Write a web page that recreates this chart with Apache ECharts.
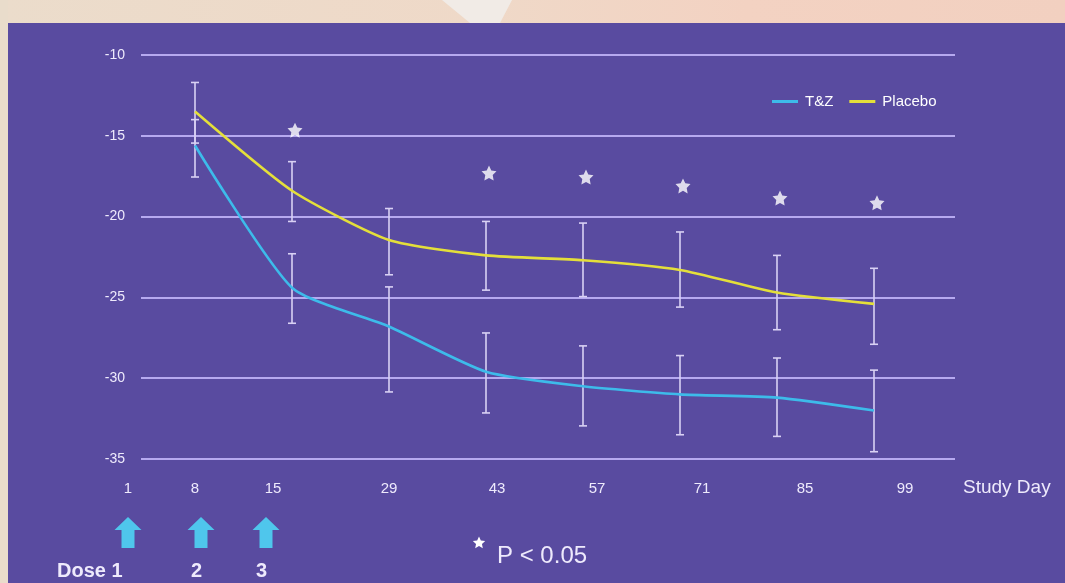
<!DOCTYPE html>
<html>
<head>
<meta charset="utf-8">
<script src="https://cdn.jsdelivr.net/npm/echarts@6/dist/echarts.min.js"></script>
<style>
html,body{margin:0;padding:0;background:#594ba0;}
#chart{width:1065px;height:583px;}
</style>
</head>
<body>
<div id="chart"></div>
<script>
// ---- data ----
const days = ['1', '8', '15', '29', '43', '57', '71', '85', '99'];
const yTicks = [-35, -30, -25, -20, -15, -10];
const tzMean = [null, -15.6, -24.4, -26.8, -29.6, -30.5, -31.0, -31.2, -32.0];
const tzHigh = [null, -14.0, -22.3, -24.35, -27.2, -28.0, -28.6, -28.75, -29.5];
const tzLow  = [null, -17.55, -26.6, -30.85, -32.15, -32.95, -33.5, -33.6, -34.55];
const pbMean = [null, -13.5, -18.4, -21.45, -22.4, -22.7, -23.3, -24.7, -25.4];
const pbHigh = [null, -11.7, -16.6, -19.5, -20.3, -20.4, -20.95, -22.4, -23.2];
const pbLow  = [null, -15.45, -20.3, -23.6, -24.55, -24.95, -25.6, -27.0, -27.9];
const starY  = [null, null, -14.65, null, -17.3, -17.55, -18.1, -18.85, -19.15];
const seriesNames = ['T&Z', 'Placebo'];
const doseLabels = ['Dose 1', '2', '3'];
const noteText = 'P < 0.05';
const xName = 'Study Day';

// label nudges (px) so the day labels sit where the slide put them
const labelNudge = [30, 0, -19, 0, 11, 14, 22, 28, 31];

const BG = '#594ba0';
const GRID = '#b6a9f0';
const BAR = '#d9d1f4';
const BLUE = '#3dbbea';
const YELLOW = '#e4df3a';
const ARROW = '#4fc6ec';
const TXT = '#eeeafc';
const FONT = '"Liberation Sans", Arial, sans-serif';

function errData(hi, lo) {
  const out = [];
  for (let i = 0; i < days.length; i++) {
    if (hi[i] != null) out.push([i, hi[i], lo[i]]);
  }
  return out;
}
function renderErr(params, api) {
  const x = api.value(0);
  const a = api.coord([x, api.value(1)]);
  const b = api.coord([x, api.value(2)]);
  const w = 4;
  const st = { stroke: BAR, lineWidth: 1.6 };
  return {
    type: 'group',
    children: [
      { type: 'line', shape: { x1: a[0], y1: a[1], x2: b[0], y2: b[1] }, style: st },
      { type: 'line', shape: { x1: a[0] - w, y1: a[1], x2: a[0] + w, y2: a[1] }, style: st },
      { type: 'line', shape: { x1: b[0] - w, y1: b[1], x2: b[0] + w, y2: b[1] }, style: st }
    ]
  };
}
const starPath = 'path://M0,-10 L2.9,-4 L9.5,-3.1 L4.7,1.5 L5.9,8.1 L0,5 L-5.9,8.1 L-4.7,1.5 L-9.5,-3.1 L-2.9,-4 Z';

function starPoly(cx, cy, r) {
  const pts = [];
  for (let k = 0; k < 10; k++) {
    const ang = -Math.PI / 2 + k * Math.PI / 5;
    const rr = k % 2 === 0 ? r : r * 0.48;
    pts.push([cx + rr * Math.cos(ang), cy + rr * Math.sin(ang)]);
  }
  return { type: 'polygon', shape: { points: pts }, style: { fill: '#ffffff' }, z: 10 };
}

function arrow(cx) {
  return {
    type: 'polygon',
    shape: { points: [[cx, 517], [cx + 13.5, 530], [cx + 6.5, 530], [cx + 6.5, 548], [cx - 6.5, 548], [cx - 6.5, 530], [cx - 13.5, 530]] },
    style: { fill: ARROW },
    z: 10
  };
}

const labelRich = {};
labelNudge.forEach(function (s, i) {
  labelRich['n' + i] = {
    color: TXT, fontSize: 15, fontFamily: FONT,
    padding: s >= 0 ? [0, 0, 0, 2 * s] : [0, -2 * s, 0, 0]
  };
});

const chart = echarts.init(document.getElementById('chart'), null, { renderer: 'canvas' });
chart.setOption({
  backgroundColor: BG,
  animation: false,
  textStyle: { fontFamily: FONT },
  grid: [
    { left: 141, right: 110, top: 55, bottom: 124 },
    { left: 98, right: 191, top: 55, bottom: 124 }
  ],
  xAxis: [
    { gridIndex: 0, type: 'value', min: 0, max: 1, show: false },
    {
      gridIndex: 1, type: 'category', data: days, boundaryGap: false,
      axisLine: { show: false }, axisTick: { show: false },
      axisLabel: {
        color: TXT, fontSize: 15, margin: 22, fontFamily: FONT,
        formatter: function (v, i) { return '{n' + i + '|' + v + '}'; },
        rich: labelRich
      },
      name: xName, nameLocation: 'end', nameGap: 89,
      nameTextStyle: { color: TXT, fontSize: 19, fontFamily: FONT, verticalAlign: 'top', lineHeight: 58 }
    }
  ],
  yAxis: [
    {
      gridIndex: 0, type: 'value', min: yTicks[0], max: yTicks[yTicks.length - 1], interval: 5,
      axisLine: { show: false }, axisTick: { show: false },
      axisLabel: { color: TXT, fontSize: 14, margin: 16, fontFamily: FONT },
      splitLine: { lineStyle: { color: GRID, width: 2 } }
    },
    {
      gridIndex: 1, type: 'value', min: yTicks[0], max: yTicks[yTicks.length - 1], interval: 5,
      show: false, splitLine: { show: false }
    }
  ],
  legend: {
    left: 767, top: 89, itemWidth: 26, itemHeight: 3, itemGap: 16,
    icon: 'rect',
    data: seriesNames,
    textStyle: { color: '#ffffff', fontSize: 15, fontFamily: FONT, padding: [0, 0, 0, 2] }
  },
  series: [
    {
      name: 'T&Z err', type: 'custom', xAxisIndex: 1, yAxisIndex: 1,
      renderItem: renderErr, data: errData(tzHigh, tzLow), z: 2, silent: true
    },
    {
      name: 'Placebo err', type: 'custom', xAxisIndex: 1, yAxisIndex: 1,
      renderItem: renderErr, data: errData(pbHigh, pbLow), z: 2, silent: true
    },
    {
      name: seriesNames[0], type: 'line', xAxisIndex: 1, yAxisIndex: 1, data: tzMean,
      smooth: 0.2, showSymbol: false, color: BLUE,
      lineStyle: { color: BLUE, width: 2.6 }, z: 3
    },
    {
      name: seriesNames[1], type: 'line', xAxisIndex: 1, yAxisIndex: 1, data: pbMean,
      smooth: 0.2, showSymbol: false, color: YELLOW,
      lineStyle: { color: YELLOW, width: 2.6 }, z: 3
    },
    {
      name: 'sig', type: 'scatter', xAxisIndex: 1, yAxisIndex: 1, data: starY,
      symbol: starPath, symbolSize: 15, symbolOffset: [3, 0],
      itemStyle: { color: '#ffffff' }, z: 4, silent: true
    }
  ],
  graphic: [
    { type: 'rect', shape: { x: 0, y: 0, width: 1065, height: 23 },
      style: { fill: new echarts.graphic.LinearGradient(0, 0, 1, 0, [
        { offset: 0, color: '#ebdccb' }, { offset: 0.45, color: '#efd9c8' },
        { offset: 0.7, color: '#f3d2c2' }, { offset: 1, color: '#f2d0c0' }]) }, z: 1 },
    { type: 'polygon', shape: { points: [[442, 0], [512, 0], [500, 23], [470, 23]] },
      style: { fill: '#f1ebe6' }, z: 1 },
    { type: 'rect', shape: { x: 0, y: 0, width: 8, height: 583 }, style: { fill: '#e9dccb' }, z: 1 },
    arrow(128), arrow(201), arrow(266),
    { type: 'text', x: 57, y: 561, style: { text: doseLabels[0], fill: TXT, font: 'bold 20px ' + FONT }, z: 10 },
    { type: 'text', x: 191, y: 561, style: { text: doseLabels[1], fill: TXT, font: 'bold 20px ' + FONT }, z: 10 },
    { type: 'text', x: 256, y: 561, style: { text: doseLabels[2], fill: TXT, font: 'bold 20px ' + FONT }, z: 10 },
    starPoly(479, 543, 6.5),
    { type: 'text', x: 497, y: 544, style: { text: noteText, fill: TXT, font: '24px ' + FONT }, z: 10 }
  ]
});
</script>
</body>
</html>
